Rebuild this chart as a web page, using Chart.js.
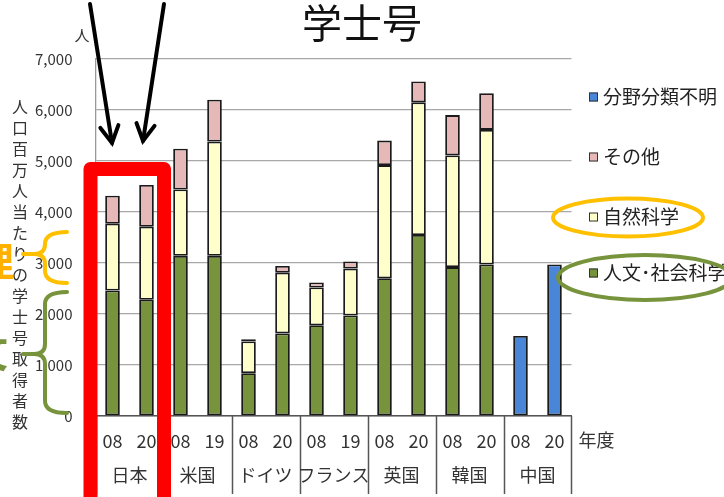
<!DOCTYPE html>
<html>
<head>
<meta charset="utf-8">
<script src="https://cdn.jsdelivr.net/npm/chart.js@4/dist/chart.umd.min.js"></script>
<style>
html,body{margin:0;padding:0;background:#fff;}
#wrap{width:724px;height:497px;position:relative;}
</style>
</head>
<body>
<div id="wrap"><canvas id="c" width="724" height="497"></canvas></div>
<script>
// ---- data ----
const years = ['08','20','08','19','08','20','08','19','08','20','08','20','08','20'];
const countries = ['日本','米国','ドイツ','フランス','英国','韓国','中国'];
const humanities = [2460, 2280, 3140, 3140, 840, 1620, 1780, 1970, 2700, 3550, 2920, 2970, null, null];
const natural    = [1310, 1430, 1300, 2240, 620, 1190, 740, 920, 2220, 2600, 2190, 2640, null, null];
const other      = [550, 820, 800, 820, 45, 130, 100, 140, 480, 410, 790, 720, null, null];
const unknown    = [null, null, null, null, null, null, null, null, null, null, null, null, 1570, 2970];
const seriesNames = ['人文･社会科学', '自然科学', 'その他', '分野分類不明'];
const yTicks = [0, 1000, 2000, 3000, 4000, 5000, 6000, 7000];
const title = '学士号';
const yTitle = '人口百万人当たりの学士号取得者数';
const yUnit = '人';
const xUnit = '年度';

const FONT = '"Noto Sans CJK JP", "Noto Sans", sans-serif';
Chart.defaults.font.family = FONT;

const overlay = {
  id: 'overlay',
  afterDraw(chart) {
    const ctx = chart.ctx;
    const xs = chart.scales.x;
    const a = chart.chartArea;
    ctx.save();
    // group separators + country names
    ctx.strokeStyle = '#555';
    ctx.lineWidth = 1.5;
    ctx.fillStyle = '#333';
    ctx.font = '18px ' + FONT;
    ctx.textAlign = 'center';
    ctx.textBaseline = 'middle';
    for (let g = 0; g < countries.length; g++) {
      const i0 = 2 * g, i1 = 2 * g + 1;
      const left = g === 0 ? a.left : (xs.getPixelForValue(i0 - 1) + xs.getPixelForValue(i0)) / 2;
      ctx.beginPath();
      ctx.moveTo(Math.round(left) + 0.5, a.bottom);
      ctx.lineTo(Math.round(left) + 0.5, 494);
      ctx.stroke();
      if (g === countries.length - 1) {
        ctx.beginPath();
        ctx.moveTo(Math.round(a.right) - 0.5, a.bottom);
        ctx.lineTo(Math.round(a.right) - 0.5, 494);
        ctx.stroke();
      }
      const cx = (xs.getPixelForValue(i0) + xs.getPixelForValue(i1)) / 2;
      ctx.fillText(countries[g], cx, 475);
    }
    // 年度
    ctx.textAlign = 'left';
    ctx.font = '18px ' + FONT;
    ctx.fillText(xUnit, a.right + 7, 440);
    // title
    ctx.fillStyle = '#111';
    ctx.font = '40px ' + FONT;
    ctx.textAlign = 'center';
    ctx.fillText(title, 362, 23);
    // unit
    ctx.fillStyle = '#333';
    ctx.font = '15px ' + FONT;
    ctx.fillText(yUnit, 82, 35);
    // y title vertical
    ctx.font = '16px ' + FONT;
    const chars = Array.from(yTitle);
    chars.forEach((ch, k) => ctx.fillText(ch, 20, 107 + k * 21));
    // legend
    const order = [3, 2, 1, 0];
    const ly = [97, 157, 217, 273];
    ctx.textAlign = 'left';
    ctx.font = '19px ' + FONT;
    order.forEach((di, k) => {
      const ds = chart.data.datasets[di];
      ctx.fillStyle = ds.backgroundColor;
      ctx.fillRect(589, ly[k] - 4.5, 9, 9);
      ctx.strokeStyle = '#333';
      ctx.lineWidth = 1;
      ctx.strokeRect(589.5, ly[k] - 4, 8, 8);
      ctx.fillStyle = '#222';
      ctx.fillText(ds.label, 603, ly[k]);
    });
    // ---- annotations ----
    ctx.strokeStyle = '#FFC000';
    ctx.lineWidth = 4;
    ctx.beginPath();
    ctx.ellipse(628, 217.5, 75, 19, 0, 0, Math.PI * 2);
    ctx.stroke();
    ctx.strokeStyle = '#77933C';
    ctx.beginPath();
    ctx.ellipse(645, 277.5, 87, 22.5, 0, 0, Math.PI * 2);
    ctx.stroke();
    function brace(top, mid, bot, color) {
      ctx.strokeStyle = color;
      ctx.lineWidth = 4;
      ctx.lineCap = 'round';
      ctx.beginPath();
      ctx.moveTo(67, top);
      ctx.quadraticCurveTo(45, top, 45, top + 12);
      ctx.lineTo(45, mid - 10);
      ctx.quadraticCurveTo(45, mid, 34, mid);
      ctx.lineTo(23, mid);
      ctx.moveTo(34, mid);
      ctx.quadraticCurveTo(45, mid, 45, mid + 10);
      ctx.lineTo(45, bot - 12);
      ctx.quadraticCurveTo(45, bot, 67, bot);
      ctx.stroke();
    }
    brace(232, 254, 283, '#FFC000');
    brace(292, 354, 413, '#77933C');
    ctx.font = 'bold 40px ' + FONT;
    ctx.textAlign = 'left';
    ctx.fillStyle = '#FFB000';
    ctx.fillText('理', -26, 261);
    ctx.fillStyle = '#77933C';
    ctx.fillText('文', -32, 352);
    // red box
    ctx.strokeStyle = '#FF0000';
    ctx.lineWidth = 14;
    ctx.lineJoin = 'round';
    ctx.beginPath();
    ctx.moveTo(90.5, 520);
    ctx.lineTo(90.5, 169);
    ctx.lineTo(164, 169);
    ctx.lineTo(164, 520);
    ctx.stroke();
    // arrows
    ctx.strokeStyle = '#000';
    ctx.lineWidth = 4;
    ctx.lineCap = 'round';
    ctx.lineJoin = 'miter';
    function arrow(x0, y0, x1, y1) {
      ctx.beginPath();
      ctx.moveTo(x0, y0);
      ctx.lineTo(x1, y1);
      ctx.stroke();
      const ang = Math.atan2(y1 - y0, x1 - x0);
      const L = 19, s = 0.5;
      ctx.beginPath();
      ctx.moveTo(x1 - L * Math.cos(ang - s), y1 - L * Math.sin(ang - s));
      ctx.lineTo(x1, y1);
      ctx.lineTo(x1 - L * Math.cos(ang + s), y1 - L * Math.sin(ang + s));
      ctx.stroke();
    }
    arrow(90, 4, 112, 143);
    arrow(164, 4, 143, 141);
    ctx.restore();
  }
};

new Chart(document.getElementById('c'), {
  type: 'bar',
  data: {
    labels: years,
    datasets: [
      { label: seriesNames[0], data: humanities, backgroundColor: '#77933C' },
      { label: seriesNames[1], data: natural, backgroundColor: '#FFFFCC' },
      { label: seriesNames[2], data: other, backgroundColor: '#E6B9B8' },
      { label: seriesNames[3], data: unknown, backgroundColor: '#4A86D8' }
    ].map(d => Object.assign(d, {
      borderColor: '#1a1a1a', borderWidth: 1.8, borderSkipped: false,
      barPercentage: 0.43, categoryPercentage: 1.0, stack: 's'
    }))
  },
  options: {
    responsive: false,
    animation: false,
    devicePixelRatio: 1,
    layout: { padding: { left: 0, right: 152.5, top: 59, bottom: 0 } },
    plugins: { legend: { display: false }, title: { display: false }, tooltip: { enabled: false } },
    scales: {
      x: {
        stacked: true,
        afterFit(s) { s.height = 81; },
        grid: { display: true, drawOnChartArea: false, drawTicks: false },
        border: { color: '#555', width: 1.5 },
        ticks: { autoSkip: false, maxRotation: 0, padding: 14, color: '#333', font: { size: 18 } }
      },
      y: {
        stacked: true,
        min: 0, max: yTicks[yTicks.length - 1],
        afterFit(s) { s.width = 95.5; },
        afterBuildTicks(s) { s.ticks = yTicks.map(v => ({ value: v })); },
        grid: { color: '#a8a8a8', lineWidth: 1.3, drawTicks: false },
        border: { color: '#999', width: 1.3 },
        ticks: {
          padding: 23, color: '#333', font: { size: 15 },
          callback: v => v.toLocaleString('en-US')
        }
      }
    }
  },
  plugins: [overlay]
});
</script>
</body>
</html>
